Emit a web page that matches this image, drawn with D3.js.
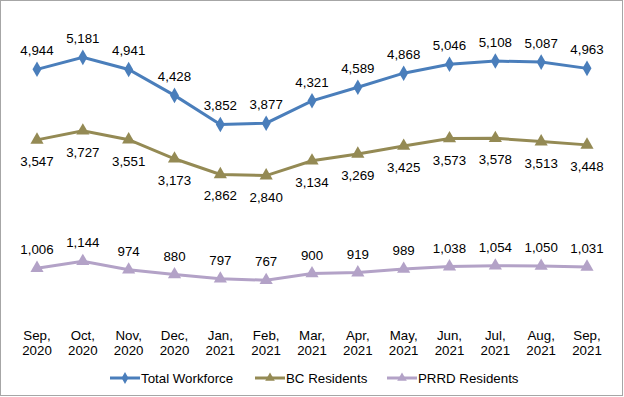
<!DOCTYPE html>
<html>
<head>
<meta charset="utf-8">
<script src="https://cdn.jsdelivr.net/npm/d3@7"></script>
<style>
  body { margin: 0; background: #fff; }
  svg text { font-family: "Liberation Sans", Arial, sans-serif; font-size: 13.3px; fill: #000; }
</style>
</head>
<body>
<svg width="624" height="397"></svg>
<script>
const months = ["Sep,", "Oct,", "Nov,", "Dec,", "Jan,", "Feb,", "Mar,", "Apr,", "May,", "Jun,", "Jul,", "Aug,", "Sep,"];
const years = ["2020", "2020", "2020", "2020", "2021", "2021", "2021", "2021", "2021", "2021", "2021", "2021", "2021"];
const totalWorkforce = [4944, 5181, 4941, 4428, 3852, 3877, 4321, 4589, 4868, 5046, 5108, 5087, 4963];
const bcResidents = [3547, 3727, 3551, 3173, 2862, 2840, 3134, 3269, 3425, 3573, 3578, 3513, 3448];
const prrdResidents = [1006, 1144, 974, 880, 797, 767, 900, 919, 989, 1038, 1054, 1050, 1031];

const series = [
  { name: "Total Workforce", values: totalWorkforce, color: "#4a7ebb", symbol: d3.symbolDiamond, labelDy: -14 },
  { name: "BC Residents", values: bcResidents, color: "#948a54", symbol: d3.symbolTriangle, labelDy: 26 },
  { name: "PRRD Residents", values: prrdResidents, color: "#b3a2c7", symbol: d3.symbolTriangle, labelDy: -14 }
];

const svg = d3.select('svg');

// outer frame
svg.append('rect')
  .attr('x', 0.5).attr('y', 0.5)
  .attr('width', 622).attr('height', 395)
  .attr('fill', 'none')
  .attr('stroke', '#a6a6a6');

const idx = months.map((m, i) => i);

const x = d3.scalePoint()
  .domain(idx)
  .range([37, 587]);

const y = d3.scaleLinear()
  .domain([0, 6000])
  .range([319, 16]);

const line = d3.line()
  .x((d, i) => x(i))
  .y(d => y(d));

series.forEach(s => {
  const g = svg.append('g');
  g.append('path')
    .datum(s.values)
    .attr('d', line)
    .attr('fill', 'none')
    .attr('stroke', s.color)
    .attr('stroke-width', 3);

  g.selectAll('.mark')
    .data(s.values)
    .enter()
    .append('path')
    .attr('transform', (d, i) => `translate(${x(i)},${y(d)})`)
    .attr('d', d3.symbol().type(s.symbol).size(s.symbol === d3.symbolDiamond ? 70 : 75))
    .attr('fill', s.color);

  g.selectAll('.lbl')
    .data(s.values)
    .enter()
    .append('text')
    .attr('x', (d, i) => x(i))
    .attr('y', d => y(d) + s.labelDy)
    .attr('text-anchor', 'middle')
    .text(d => d3.format(",")(d));
});

// category labels
const xl = svg.append('g');
xl.selectAll('text')
  .data(idx)
  .enter()
  .append('text')
  .attr('x', d => x(d))
  .attr('y', 340)
  .attr('text-anchor', 'middle')
  .each(function(d) {
    d3.select(this).append('tspan').attr('x', x(d)).text(months[d]);
    d3.select(this).append('tspan').attr('x', x(d)).attr('dy', 15).text(years[d]);
  });

// legend
const legendX = [110, 255, 387];
const legend = svg.append('g');
series.forEach((s, i) => {
  const lg = legend.append('g').attr('transform', `translate(${legendX[i]},378)`);
  lg.append('line')
    .attr('x1', 0).attr('x2', 30)
    .attr('stroke', s.color)
    .attr('stroke-width', 3);
  lg.append('path')
    .attr('transform', 'translate(15,0)')
    .attr('d', d3.symbol().type(s.symbol).size(40))
    .attr('fill', s.color);
  lg.append('text')
    .attr('x', 31)
    .attr('y', 5)
    .text(s.name);
});
</script>
</body>
</html>
